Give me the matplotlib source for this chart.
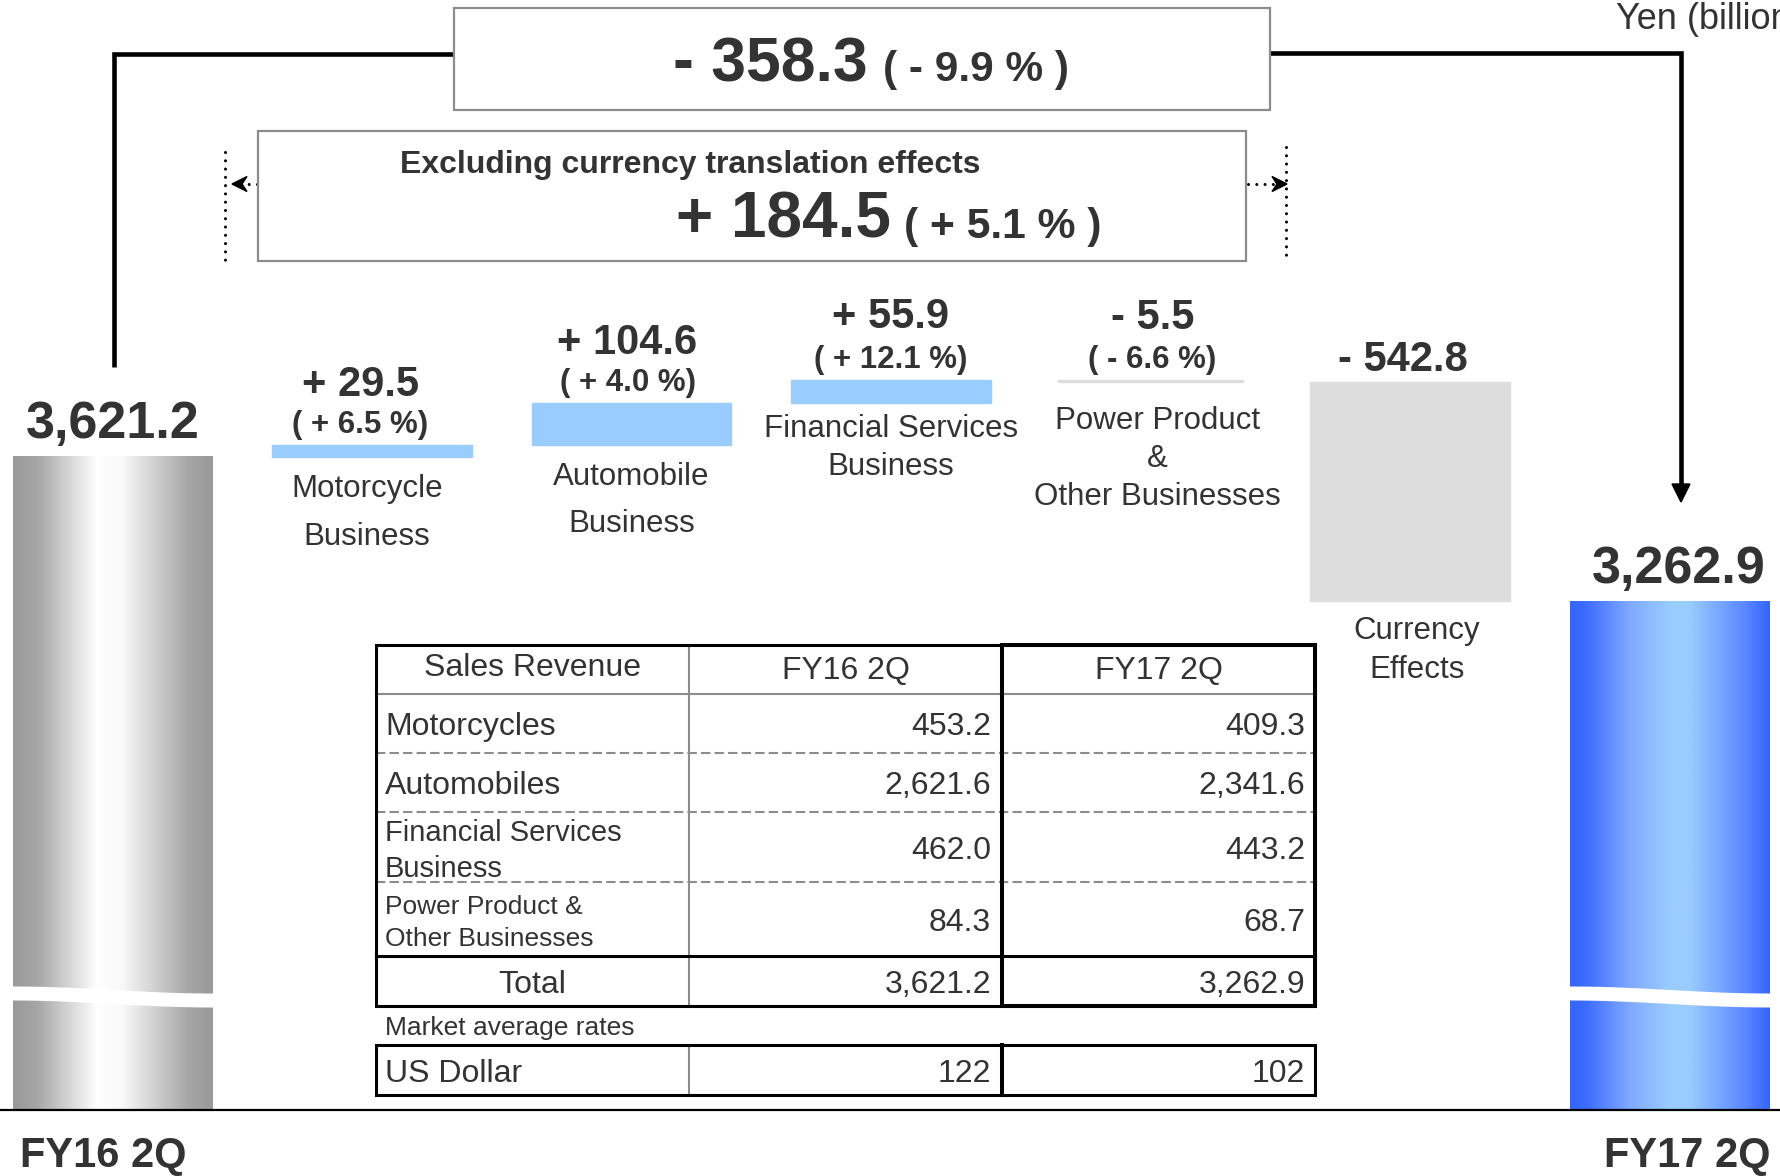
import numpy as np
import matplotlib.pyplot as plt
from matplotlib.patches import Rectangle, Polygon
from matplotlib.colors import LinearSegmentedColormap
from matplotlib.transforms import blended_transform_factory

plt.rcParams["font.family"] = ["Liberation Sans", "DejaVu Sans"]

# ---------------- data ----------------
start_label = "FY16 2Q"
end_label = "FY17 2Q"
start_total = 3621.2
end_total = 3262.9

step_names = [
    "Motorcycle\nBusiness",
    "Automobile\nBusiness",
    "Financial Services\nBusiness",
    "Power Product\n&\nOther Businesses",
    "Currency\nEffects",
]
step_values = [29.5, 104.6, 55.9, -5.5, -542.8]
step_pcts = [6.5, 4.0, 12.1, -6.6, None]

total_change = -358.3
total_pct = -9.9
ex_fx_change = 184.5
ex_fx_pct = 5.1

table_header = ["Sales Revenue", "FY16 2Q", "FY17 2Q"]
table_rows = ["Motorcycles", "Automobiles",
              "Financial Services\nBusiness", "Power Product &\nOther Businesses"]
fy16_sales = [453.2, 2621.6, 462.0, 84.3]
fy17_sales = [409.3, 2341.6, 443.2, 68.7]
rate_title = "Market average rates"
rate_name = "US Dollar"
fy16_rate = 122
fy17_rate = 102

# ---------------- layout ----------------
W, H = 1780, 1176
TXT = "#333333"
K = 0.403            # pixels per billion yen above the axis break
BASE = 2000.0        # value drawn at the baseline (axis is broken)
BASE_PX = 1110       # pixel row of the baseline
X0_PX, DX_PX = 112.5, 259.5
PT = 0.72            # points per pixel at dpi 100

step_colors = ["#99ccff", "#99ccff", "#99ccff", "#dddddd", "#dddddd"]
step_widths = [0.77, 0.77, 0.77, 0.713, 0.77]
val_gap = [49, 49, 52, 51, 11]       # px from bar top to value baseline
val_dx = [-12, -4, 0, 2, -7]
lab_off = [17, 17, 11, 24, 15]       # px from bar bottom to name top
lab_ls = [1.8, 1.75, 1.35, 1.35, 1.4]
lab_dx = [-5, 0, 0, 7, 7]


def signed(v):
    return ("+ " if v >= 0 else "- ") + f"{abs(v):,.1f}"


fig = plt.figure(figsize=(W / 100, H / 100), dpi=100)
ax = fig.add_axes([0, 0, 1, 1])
ov = fig.add_axes([0, 0, 1, 1])
ov.patch.set_visible(False)
for a in (ax, ov):
    a.axis("off")

ov.set_xlim(0, W)
ov.set_ylim(H, 0)

xlim = (-X0_PX / DX_PX, (W - X0_PX) / DX_PX)
ylim = (BASE - (H - BASE_PX) / K, BASE + BASE_PX / K)

# ---------------- bars ----------------
n = len(step_values)
cum = start_total + np.concatenate([[0], np.cumsum(step_values)])
lows = np.minimum(cum[:-1], cum[1:])
highs = np.maximum(cum[:-1], cum[1:])
xs = np.arange(1, n + 1)

for i in range(n):
    ax.bar(xs[i], highs[i] - lows[i], bottom=lows[i], width=step_widths[i],
           color=step_colors[i], edgecolor=step_colors[i], linewidth=1.0, zorder=2)

grey = LinearSegmentedColormap.from_list("g", [
    (0, "#999999"), (0.12, "#a6a6a6"), (0.42, "#ffffff"),
    (0.55, "#f8f8f8"), (0.88, "#a6a6a6"), (1, "#999999")])
blue = LinearSegmentedColormap.from_list("b", [
    (0, "#3366ff"), (0.08, "#3d6cff"), (0.3, "#80aaff"), (0.5, "#99ccff"),
    (0.6, "#99ccff"), (0.88, "#5a86ff"), (1, "#3366ff")])

ends = ax.bar([0, n + 1], [start_total - BASE, end_total - BASE], bottom=BASE,
              width=0.77, color="none", zorder=2)
blend = blended_transform_factory(ax.transData, ov.transData)
grad = np.linspace(0, 1, 256).reshape(1, -1)
for p, cm in zip(ends.patches, [grey, blue]):
    x0, y0, w, h = p.get_x(), p.get_y(), p.get_width(), p.get_height()
    ax.imshow(grad, extent=(x0, x0 + w, y0, y0 + h), aspect="auto",
              cmap=cm, interpolation="bicubic", zorder=2)
    # axis break wave
    wx = np.linspace(x0 - 0.01, x0 + w + 0.01, 80)
    t = (wx - x0) / w
    yc = 996.5 - 3.5 * np.cos(np.pi * t)
    ax.fill_between(wx, yc - 7, yc + 7, color="white", transform=blend,
                    zorder=3, linewidth=0)

ax.set_xlim(*xlim)
ax.set_ylim(*ylim)

# totals labels
ax.annotate(f"{start_total:,.1f}", (0, start_total), xytext=(0, 19 * PT),
            textcoords="offset points", ha="center", va="baseline",
            fontsize=37.5, fontweight="bold", color=TXT)
ax.annotate(f"{end_total:,.1f}", (n + 1, end_total), xytext=(9 * PT, 18 * PT),
            textcoords="offset points", ha="center", va="baseline",
            fontsize=37.5, fontweight="bold", color=TXT)

# step labels
for i in range(n):
    top, bot = highs[i], lows[i]
    dx = val_dx[i] * PT
    ax.annotate(signed(step_values[i]), (xs[i], top),
                xytext=(dx, val_gap[i] * PT), textcoords="offset points",
                ha="center", va="baseline", fontsize=30, fontweight="bold", color=TXT)
    if step_pcts[i] is not None:
        pct = ("( + " if step_pcts[i] >= 0 else "( - ") + f"{abs(step_pcts[i]):.1f} %)"
        ax.annotate(pct, (xs[i], top), xytext=(dx, 12 * PT),
                    textcoords="offset points", ha="center", va="baseline",
                    fontsize=22.5, fontweight="bold", color=TXT)
    ax.annotate(step_names[i], (xs[i], bot), xytext=(lab_dx[i] * PT, -lab_off[i] * PT),
                textcoords="offset points", ha="center", va="top",
                fontsize=22.5, color=TXT, linespacing=lab_ls[i], multialignment="center")

# ---------------- brackets and boxes ----------------
ov.axhline(BASE_PX, color="black", lw=1.6, zorder=4)

ov.plot([113.5, 113.5, 454], [367, 54, 54], color="black", lw=3.3,
        solid_joinstyle="miter", solid_capstyle="butt", zorder=4)
ov.plot([1270, 1681, 1681], [53, 53, 485], color="black", lw=3.3,
        solid_joinstyle="miter", solid_capstyle="butt", zorder=4)
ov.add_patch(Polygon([(1672, 484), (1690, 484), (1681, 502)], closed=True,
                     color="black", zorder=4))

ov.add_patch(Rectangle((454, 8), 816, 102, fill=False, ec="#8c8c8c", lw=1.6, zorder=5))
ov.add_patch(Rectangle((257.5, 131), 988, 129.5, fill=False, ec="#8c8c8c", lw=1.6, zorder=5))

ov.text(868, 81.5, signed(total_change), ha="right", va="baseline",
        fontsize=45, fontweight="bold", color=TXT)
ov.text(883, 81.5, ("( + " if total_pct >= 0 else "( - ") + f"{abs(total_pct):.1f} % )",
        ha="left", va="baseline", fontsize=30.5, fontweight="bold", color=TXT)

ov.text(690, 173, "Excluding currency translation effects", ha="center",
        va="baseline", fontsize=23, fontweight="bold", color=TXT)
ov.text(891, 238, signed(ex_fx_change), ha="right", va="baseline",
        fontsize=46, fontweight="bold", color=TXT)
ov.text(903.6, 238, ("( + " if ex_fx_pct >= 0 else "( - ") + f"{abs(ex_fx_pct):.1f} % )",
        ha="left", va="baseline", fontsize=30.7, fontweight="bold", color=TXT)

dots = dict(color="black", lw=2.2, ls=(0, (0.01, 2.7)), dash_capstyle="round", zorder=4)
ov.plot([224.6, 224.6], [152, 265], **dots)
ov.plot([1286, 1286], [147, 260], **dots)
ov.plot([257, 242], [184, 184], **dots)
ov.plot([1248, 1276], [184, 184], **dots)
ov.add_patch(Polygon([(232, 184), (247, 176.5), (242, 184), (247, 191.5)],
                     closed=True, color="black", zorder=4))
ov.add_patch(Polygon([(1287, 184), (1272, 176.5), (1277, 184), (1272, 191.5)],
                     closed=True, color="black", zorder=4))

# unit label, cut by the right edge as in the slide
ov.text(1616, 29.3, "Yen (billions)", ha="left", va="baseline", fontsize=26, color=TXT)
ov.text(20, 1167, start_label, ha="left", va="baseline", fontsize=30,
        fontweight="bold", color=TXT)
ov.text(1771, 1167, end_label, ha="right", va="baseline", fontsize=30,
        fontweight="bold", color=TXT)

# ---------------- table ----------------
TX = [376, 689, 1002, 1315]
TY = [644.5, 693.5, 753, 812, 882, 956, 1006]
RY = [1044.5, 1095]
row_sizes = [23, 23, 21, 19]
row_ls = [1.2, 1.2, 1.35, 1.4]
GREY = "#8c8c8c"
FS = 23
DY = 4

ov.plot([TX[0], TX[3]], [TY[1]] * 2, color=GREY, lw=1.5, zorder=5)
for y in TY[2:5]:
    ov.plot([TX[0], TX[3]], [y, y], color=GREY, lw=1.5, ls=(0, (4.5, 2)), zorder=5)
ov.plot([TX[1], TX[1]], [TY[0], TY[-1]], color=GREY, lw=1.5, zorder=5)
ov.plot([TX[0], TX[3]], [TY[5]] * 2, color="black", lw=2.2, zorder=6)
ov.add_patch(Rectangle((TX[0], TY[0]), TX[3] - TX[0], TY[-1] - TY[0], fill=False,
                       ec="black", lw=2.2, zorder=6))
ov.add_patch(Rectangle((TX[2], TY[0]), TX[3] - TX[2], TY[-1] - TY[0], fill=False,
                       ec="black", lw=2.9, zorder=7))

ov.plot([TX[1], TX[1]], RY, color=GREY, lw=1.5, zorder=5)
ov.add_patch(Rectangle((TX[0], RY[0]), TX[3] - TX[0], RY[1] - RY[0], fill=False,
                       ec="black", lw=2.2, zorder=6))
ov.plot([TX[2], TX[2]], RY, color="black", lw=2.9, zorder=7)

hy = (TY[0] + TY[1]) / 2
ov.text((TX[0] + TX[1]) / 2, hy - 1, table_header[0], ha="center", va="center",
        fontsize=FS, color=TXT)
for j in (1, 2):
    ov.text((TX[j] + TX[j + 1]) / 2, hy + 2, table_header[j], ha="center", va="center",
            fontsize=FS, color=TXT)

for i, name in enumerate(table_rows):
    cy = (TY[i + 1] + TY[i + 2]) / 2 + DY
    ov.text(385, cy, name, ha="left", va="center", fontsize=row_sizes[i],
            color=TXT, linespacing=row_ls[i])
    ov.text(TX[2] - 11, cy, f"{fy16_sales[i]:,.1f}", ha="right", va="center",
            fontsize=FS, color=TXT)
    ov.text(TX[3] - 10, cy, f"{fy17_sales[i]:,.1f}", ha="right", va="center",
            fontsize=FS, color=TXT)

cy = (TY[5] + TY[6]) / 2 + DY
ov.text((TX[0] + TX[1]) / 2, cy, "Total", ha="center", va="center", fontsize=FS, color=TXT)
ov.text(TX[2] - 11, cy, f"{start_total:,.1f}", ha="right", va="center", fontsize=FS, color=TXT)
ov.text(TX[3] - 10, cy, f"{end_total:,.1f}", ha="right", va="center", fontsize=FS, color=TXT)

ov.text(385, 1028, rate_title, ha="left", va="center", fontsize=19, color=TXT)
cy = (RY[0] + RY[1]) / 2 + DY
ov.text(385, cy, rate_name, ha="left", va="center", fontsize=FS, color=TXT)
ov.text(TX[2] - 11, cy, f"{fy16_rate}", ha="right", va="center", fontsize=FS, color=TXT)
ov.text(TX[3] - 10, cy, f"{fy17_rate}", ha="right", va="center", fontsize=FS, color=TXT)

fig.savefig("out.png", dpi=100, facecolor="white")
